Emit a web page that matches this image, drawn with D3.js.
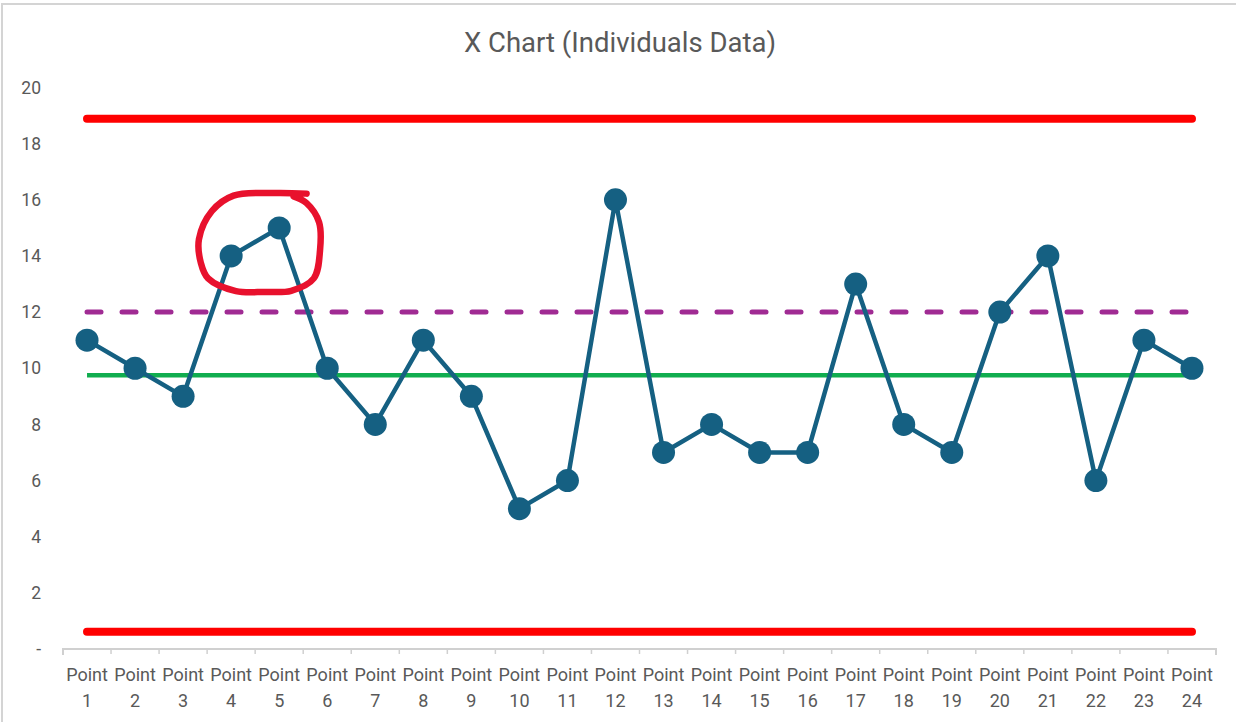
<!DOCTYPE html>
<html lang="en">
<head>
    <meta charset="UTF-8" />
    <script src="https://d3js.org/d3.v7.min.js"></script>
    <title>X Chart</title>
    <style>
        body { margin: 0; background: #fff; }
        text { font-family: Roboto, "Open Sans", sans-serif; fill: #595959; }
    </style>
</head>
<body>
    <script>
        // data
        const categories = d3.range(1, 25).map(d => "Point " + d);
        const values = [11, 10, 9, 14, 15, 10, 8, 11, 9, 5, 6, 16, 7, 8, 7, 7, 13, 8, 7, 12, 14, 6, 11, 10];
        const yTicks = [0, 2, 4, 6, 8, 10, 12, 14, 16, 18, 20];
        const upperLimit = 18.89;
        const lowerLimit = 0.61;
        const average = 9.75;
        const warnLine = 12;
        // hand drawn ring round points 4 and 5: [category index, value]
        const ring = [
            [4.57, 16.22], [3.9, 16.24], [3.05, 16.15], [2.6, 15.6], [2.33, 14.6], [2.37, 13.75],
            [2.52, 13.2], [3.1, 12.75], [3.7, 12.72], [4.25, 12.76], [4.72, 13.2],
            [4.85, 14.2], [4.83, 15.2], [4.57, 15.88], [4.3, 16.12]
        ];

        const W = 1236, H = 722;
        const svg = d3.select("body").append("svg")
            .attr("width", W).attr("height", H);

        // chart area border
        svg.append("rect")
            .attr("x", 2).attr("y", 4)
            .attr("width", W + 10).attr("height", H + 10)
            .attr("fill", "#fff")
            .attr("stroke", "#d4d4d4").attr("stroke-width", 2);

        const x = d3.scaleBand().domain(categories).range([63, 1216]);
        const y = d3.scaleLinear().domain([0, 20]).range([649, 87.5]);
        const cx = i => x(categories[0]) + x.bandwidth() * (i + 0.5);

        svg.append("text")
            .attr("x", 620).attr("y", 52)
            .attr("text-anchor", "middle")
            .attr("font-size", 27.5)
            .text("X Chart (Individuals Data)");

        // y axis labels only
        const gY = svg.append("g").attr("transform", "translate(41,0)");
        gY.call(d3.axisLeft(y).tickValues(yTicks).tickSize(0).tickPadding(0)
            .tickFormat(d => d === 0 ? "-" : d));
        gY.select(".domain").remove();
        gY.selectAll("text").attr("font-size", 17.5).attr("fill", "#595959")
            .style("font-family", "Roboto, sans-serif");

        // x axis
        const gX = svg.append("g").attr("transform", "translate(0,649)");
        gX.call(d3.axisBottom(x).tickSize(0).tickFormat(""));
        gX.select(".domain").attr("stroke", "#d0d0d0").attr("stroke-width", 2)
            .attr("d", "M63,6V0H1216V6");
        gX.selectAll(".boundary")
            .data(d3.range(1, 24))
            .join("line")
            .attr("x1", i => x(categories[i])).attr("x2", i => x(categories[i]))
            .attr("y1", 0).attr("y2", 5)
            .attr("stroke", "#d0d0d0").attr("stroke-width", 1.5);
        const lab = gX.selectAll(".lab").data(categories).join("text")
            .attr("text-anchor", "middle")
            .attr("font-size", 18)
            .attr("transform", d => `translate(${x(d) + x.bandwidth() / 2},0)`);
        lab.append("tspan").attr("x", 0).attr("y", 32).text(d => d.split(" ")[0]);
        lab.append("tspan").attr("x", 0).attr("y", 58).text(d => d.split(" ")[1]);

        const x0 = cx(0), x1 = cx(categories.length - 1);

        // control limits
        svg.selectAll(".limit").data([upperLimit, lowerLimit]).join("line")
            .attr("x1", x0).attr("x2", x1)
            .attr("y1", d => y(d)).attr("y2", d => y(d))
            .attr("stroke", "#ff0000").attr("stroke-width", 8)
            .attr("stroke-linecap", "round");

        svg.append("line")
            .attr("x1", x0).attr("x2", x1)
            .attr("y1", y(warnLine)).attr("y2", y(warnLine))
            .attr("stroke", "#a02b93").attr("stroke-width", 5)
            .attr("stroke-linecap", "round")
            .attr("stroke-dasharray", "14 21");

        svg.append("line")
            .attr("x1", x0).attr("x2", x1)
            .attr("y1", y(average)).attr("y2", y(average))
            .attr("stroke", "#10ad4f").attr("stroke-width", 4.5);

        // data series
        const line = d3.line().x((d, i) => cx(i)).y(d => y(d));
        svg.append("path")
            .datum(values)
            .attr("d", line)
            .attr("fill", "none")
            .attr("stroke", "#156082")
            .attr("stroke-width", 4.5)
            .attr("stroke-linejoin", "round");
        svg.selectAll(".dot").data(values).join("circle")
            .attr("cx", (d, i) => cx(i))
            .attr("cy", d => y(d))
            .attr("r", 11.5)
            .attr("fill", "#156082");

        // annotation ring
        svg.append("path")
            .datum(ring)
            .attr("d", d3.line().x(d => cx(d[0])).y(d => y(d[1])).curve(d3.curveCatmullRom))
            .attr("fill", "none")
            .attr("stroke", "#e8112d")
            .attr("stroke-width", 6.5)
            .attr("stroke-linecap", "round")
            .attr("stroke-linejoin", "round");
    </script>
</body>
</html>
